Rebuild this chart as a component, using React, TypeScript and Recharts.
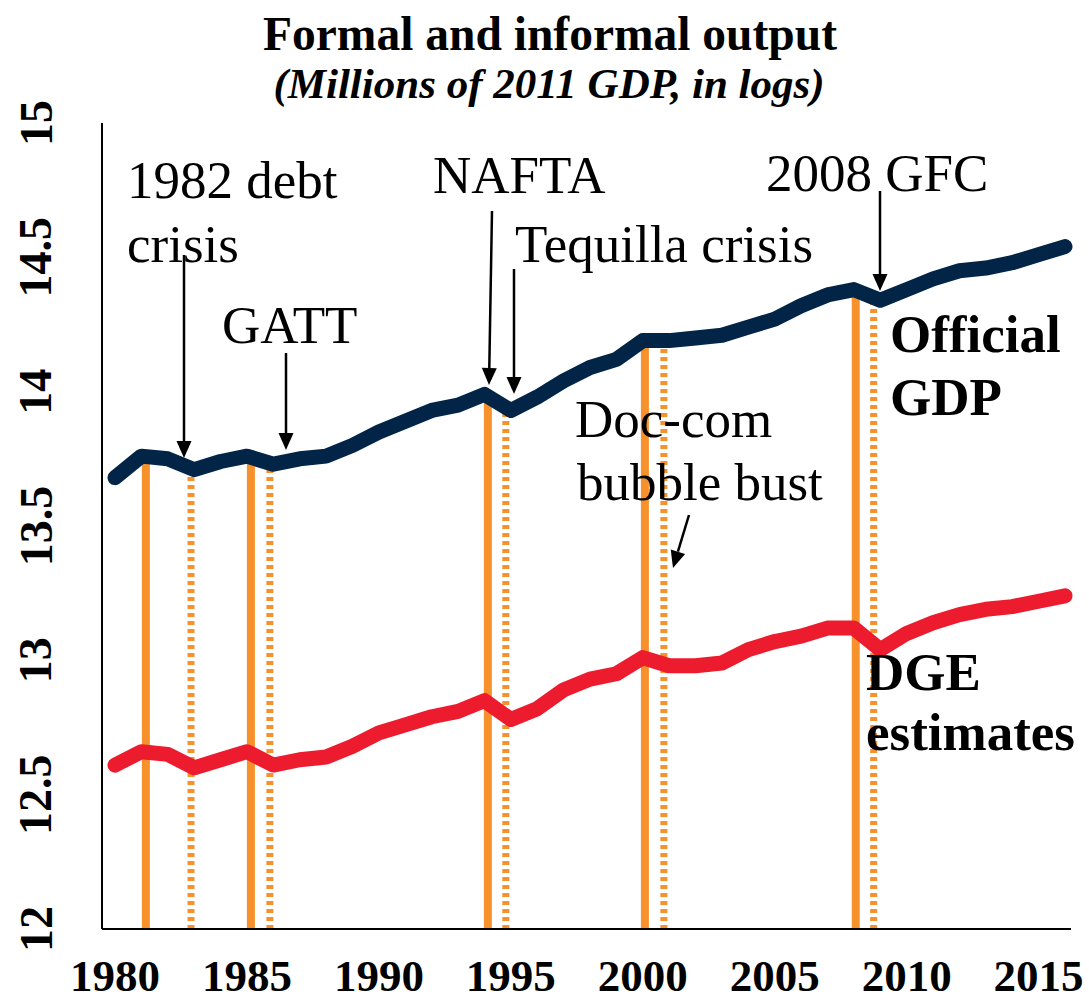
import React from 'react';
import { LineChart, Line, XAxis, YAxis, ReferenceLine } from 'recharts';

const years = [
  1980, 1981, 1982, 1983, 1984, 1985, 1986, 1987, 1988, 1989,
  1990, 1991, 1992, 1993, 1994, 1995, 1996, 1997, 1998, 1999,
  2000, 2001, 2002, 2003, 2004, 2005, 2006, 2007, 2008, 2009,
  2010, 2011, 2012, 2013, 2014, 2015, 2016,
];

const officialGdp = [
  13.68, 13.76, 13.75, 13.71, 13.74, 13.76, 13.73, 13.75, 13.76, 13.8,
  13.85, 13.89, 13.93, 13.95, 13.99, 13.93, 13.98, 14.04, 14.09, 14.12,
  14.19, 14.19, 14.2, 14.21, 14.24, 14.27, 14.32, 14.36, 14.38, 14.34,
  14.38, 14.42, 14.45, 14.46, 14.48, 14.51, 14.54,
];

const dgeEstimates = [
  12.61, 12.66, 12.65, 12.6, 12.63, 12.66, 12.61, 12.63, 12.64, 12.68,
  12.73, 12.76, 12.79, 12.81, 12.85, 12.78, 12.82, 12.89, 12.93, 12.95,
  13.01, 12.98, 12.98, 12.99, 13.04, 13.07, 13.09, 13.12, 13.12, 13.04,
  13.1, 13.14, 13.17, 13.19, 13.2, 13.22, 13.24,
];

// shock markers: solid = onset, dotted = following trough
const shockStart = [1981.17, 1985.15, 1994.13, 2000.08, 2008.07];
const shockStartTop = [13.76, 13.76, 13.99, 14.19, 14.38];
const shockEnd = [1982.88, 1985.87, 1994.81, 2000.8, 2008.75];
const shockEndTop = [13.71, 13.73, 13.93, 14.19, 14.34];

const xTicks = [1980, 1985, 1990, 1995, 2000, 2005, 2010, 2015];
const yTicks = [12, 12.5, 13, 13.5, 14, 14.5, 15];

const data = years.map((year, i) => ({
  year,
  official: officialGdp[i],
  dge: dgeEstimates[i],
}));

const SERIF = "'Times New Roman', 'Liberation Serif', serif";
const NAVY = '#022446';
const RED = '#EC1C2E';
const ORANGE = '#F7912B';

const XTick = (props: any) => (
  <text x={props.x} y={991} textAnchor="middle" fontFamily={SERIF} fontWeight="bold" fontSize={45} fill="#000">
    {props.payload.value}
  </text>
);

const YTick = (props: any) => (
  <text
    x={36}
    y={props.y}
    transform={`rotate(-90, 36, ${props.y})`}
    textAnchor="middle"
    dominantBaseline="central"
    fontFamily={SERIF}
    fontWeight="bold"
    fontSize={46}
    fill="#000"
  >
    {props.payload.value}
  </text>
);

const Arrow = ({ x1, y1, x2, y2 }: { x1: number; y1: number; x2: number; y2: number }) => {
  const len = Math.hypot(x2 - x1, y2 - y1);
  const ux = (x2 - x1) / len;
  const uy = (y2 - y1) / len;
  const head = 17;
  const half = 7.5;
  const bx = x2 - ux * head;
  const by = y2 - uy * head;
  const pts = `${x2},${y2} ${bx - uy * half},${by + ux * half} ${bx + uy * half},${by - ux * half}`;
  return (
    <g>
      <line x1={x1} y1={y1} x2={bx} y2={by} stroke="#000" strokeWidth={2.5} />
      <polygon points={pts} fill="#000" />
    </g>
  );
};

const notes = [
  { text: '1982 debt', x: 127, y: 198 },
  { text: 'crisis', x: 127, y: 262 },
  { text: 'GATT', x: 222, y: 343 },
  { text: 'NAFTA', x: 433, y: 193 },
  { text: 'Tequilla crisis', x: 515, y: 262 },
  { text: '2008 GFC', x: 766, y: 191 },
  { text: 'Doc-com', x: 575, y: 437 },
  { text: 'bubble bust', x: 577, y: 500 },
];

const boldNotes = [
  { text: 'Official', x: 890, y: 352 },
  { text: 'GDP', x: 890, y: 415 },
  { text: 'DGE', x: 866, y: 690 },
  { text: 'estimates', x: 866, y: 750 },
];

const arrows = [
  { x1: 184, y1: 255, x2: 184, y2: 458 },
  { x1: 286, y1: 353, x2: 286, y2: 450 },
  { x1: 492, y1: 211, x2: 489, y2: 385 },
  { x1: 514, y1: 269, x2: 514, y2: 394 },
  { x1: 880, y1: 191, x2: 880, y2: 291 },
  { x1: 689, y1: 515, x2: 673, y2: 568 },
];

export default function App() {
  return (
    <div style={{ position: 'relative', width: 1089, height: 1003, background: '#fff' }}>
      <style>{'body { margin: 0; }'}</style>
      <LineChart width={1089} height={1003} data={data} margin={{ top: 123, right: 18, bottom: 0, left: 0 }}>
        <XAxis
          dataKey="year"
          type="number"
          domain={[1980, 2016]}
          ticks={xTicks}
          padding={{ left: 13, right: 6 }}
          height={74}
          tickLine={false}
          axisLine={{ stroke: '#000', strokeWidth: 2 }}
          tick={<XTick />}
        />
        <XAxis
          xAxisId="top"
          orientation="top"
          type="number"
          domain={[1980, 2016]}
          height={0}
          tick={false}
          tickLine={false}
          axisLine={{ stroke: '#000', strokeWidth: 2 }}
        />
        <YAxis
          domain={[12, 15]}
          ticks={yTicks}
          width={102}
          tickLine={false}
          axisLine={{ stroke: '#000', strokeWidth: 2 }}
          tick={<YTick />}
        />
        <YAxis
          yAxisId="right"
          orientation="right"
          domain={[12, 15]}
          width={0}
          tick={false}
          tickLine={false}
          axisLine={{ stroke: '#000', strokeWidth: 2 }}
        />
        {shockStart.map((x, i) => (
          <ReferenceLine
            key={'s' + i}
            segment={[{ x, y: 12 }, { x, y: shockStartTop[i] }]}
            stroke={ORANGE}
            strokeWidth={8}
          />
        ))}
        {shockEnd.map((x, i) => (
          <ReferenceLine
            key={'e' + i}
            segment={[{ x, y: 12 }, { x, y: shockEndTop[i] }]}
            stroke={ORANGE}
            strokeWidth={7}
            strokeDasharray="4 4"
          />
        ))}
        <Line
          type="linear"
          dataKey="official"
          stroke={NAVY}
          strokeWidth={15}
          strokeLinecap="round"
          strokeLinejoin="round"
          dot={false}
          isAnimationActive={false}
        />
        <Line
          type="linear"
          dataKey="dge"
          stroke={RED}
          strokeWidth={15}
          strokeLinecap="round"
          strokeLinejoin="round"
          dot={false}
          isAnimationActive={false}
        />
      </LineChart>
      <svg width={1089} height={1003} style={{ position: 'absolute', left: 0, top: 0, pointerEvents: 'none' }}>
        <text x={550} y={50} textAnchor="middle" fontFamily={SERIF} fontWeight="bold" fontSize={47.5}>
          Formal and informal output
        </text>
        <text x={549} y={98} textAnchor="middle" fontFamily={SERIF} fontWeight="bold" fontStyle="italic" fontSize={43}>
          (Millions of 2011 GDP, in logs)
        </text>
        {notes.map((n) => (
          <text key={n.text} x={n.x} y={n.y} fontFamily={SERIF} fontSize={53}>
            {n.text}
          </text>
        ))}
        {boldNotes.map((n) => (
          <text key={n.text} x={n.x} y={n.y} fontFamily={SERIF} fontWeight="bold" fontSize={53}>
            {n.text}
          </text>
        ))}
        {arrows.map((a, i) => (
          <Arrow key={i} {...a} />
        ))}
      </svg>
    </div>
  );
}
